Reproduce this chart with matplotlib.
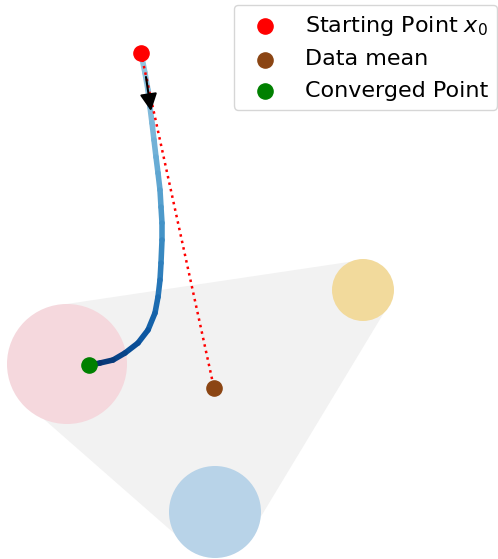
import numpy as np
import matplotlib
matplotlib.use("Agg")
import matplotlib.pyplot as plt
from matplotlib.collections import LineCollection
from matplotlib.patches import Polygon, Circle

# ---- data (plot units) ----
hull_x = [60, 362, 388, 245, 192, 22, 15]
hull_y = [254, 299, 253, 16, 10, 159, 199]

cluster_x = [67, 215, 363]
cluster_y = [195, 47, 269]
cluster_r = [60, 46, 31]
cluster_colors = ["#f5d8dd", "#b8d3e8", "#f2da9c"]

path_x = [141, 145, 148, 150, 152, 154, 156, 158, 160, 161, 162, 162, 161, 160, 158, 155,
          148, 138, 125, 113, 100, 90]
path_y = [506, 486, 469, 452, 436, 419, 402, 386, 369, 352, 336, 319, 296, 279, 262, 246,
          229, 216, 206, 199, 196, 194]

start_pt = (141, 506)
mean_pt = (214, 171)
conv_pt = (89, 194)
arrow_tail = (146, 482)
arrow_tip = (151, 448)

fig = plt.figure(figsize=(4.98, 5.59), dpi=100)
ax = fig.add_axes([0, 0, 1, 1])
ax.set_xlim(0, 498)
ax.set_ylim(0, 559)
ax.set_aspect("equal")
ax.axis("off")

ax.add_patch(Polygon(np.column_stack([hull_x, hull_y]), closed=True,
                     facecolor="#f2f2f2", edgecolor="none", zorder=1))
for cx, cy, r, c in zip(cluster_x, cluster_y, cluster_r, cluster_colors):
    ax.add_patch(Circle((cx, cy), r, facecolor=c, edgecolor="none", zorder=2))

# trajectory with gradient
px = np.array(path_x, float)
py = np.array(path_y, float)
seg = np.stack([np.column_stack([px[:-1], py[:-1]]), np.column_stack([px[1:], py[1:]])], axis=1)
d = np.hypot(np.diff(px), np.diff(py))
s = np.concatenate([[0], np.cumsum(d)])
f = (s[:-1] + s[1:]) / 2 / s[-1]
cols = plt.cm.Blues(0.4 + 0.6 * f ** 1.5)
lc = LineCollection(seg, colors=cols, linewidths=4, capstyle="round", joinstyle="round", zorder=3)
ax.add_collection(lc)

ax.plot([start_pt[0], mean_pt[0]], [start_pt[1], mean_pt[1]], linestyle=":", color="red",
        lw=1.8, zorder=4)

ax.annotate("", xy=arrow_tip, xytext=arrow_tail,
            arrowprops=dict(arrowstyle="-|>", color="black", lw=1.5, mutation_scale=26,
                            shrinkA=0, shrinkB=0), zorder=6)

ax.scatter([start_pt[0]], [start_pt[1]], s=120, color="red", zorder=7, label="Starting Point $x_0$")
ax.scatter([mean_pt[0]], [mean_pt[1]], s=120, color="#8B4513", zorder=7, label="Data mean")
ax.scatter([conv_pt[0]], [conv_pt[1]], s=120, color="green", zorder=7, label="Converged Point")

fig.legend(loc="upper right", bbox_to_anchor=(497 / 498, 1 - 5 / 559),
           bbox_transform=fig.transFigure, borderaxespad=0, fontsize=16, scatterpoints=1,
           labelspacing=0.52)

fig.savefig("out.png", dpi=100)
